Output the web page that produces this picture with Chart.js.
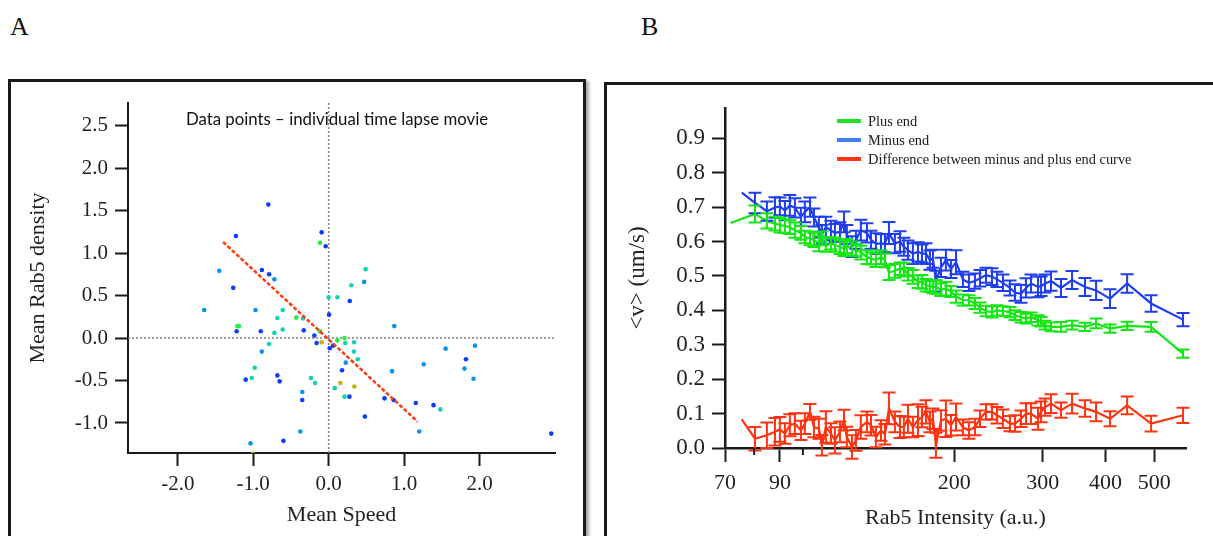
<!DOCTYPE html>
<html>
<head>
<meta charset="utf-8">
<script src="https://cdn.jsdelivr.net/npm/chart.js@4.4.0/dist/chart.umd.min.js"></script>
<style>
  html, body { margin:0; padding:0; background:#fff; }
  body { width:1213px; height:536px; position:relative; overflow:hidden; font-family:"Liberation Serif", serif; }
  .letter { position:absolute; top:12px; font-size:26px; color:#111; }
  .panel { position:absolute; border:3px solid #1a1a1a; box-shadow:3px 2px 3px rgba(0,0,0,0.35); background:#fff; }
  #panelA { left:8px; top:79px; width:572px; height:520px; }
  #panelB { left:604px; top:82px; width:640px; height:520px; }
  #wrapA { position:absolute; left:11px; top:82px; width:573px; height:454px; }
  #wrapB { position:absolute; left:607px; top:85px; width:606px; height:451px; }
  #titleA { position:absolute; left:137px; width:400px; top:109px; line-height:20px; text-align:center;
            font-family:Lato, "Open Sans", sans-serif; font-size:16.8px; color:#111; }
</style>
</head>
<body>
<div class="letter" style="left:10px">A</div>
<div class="letter" style="left:641px">B</div>
<div class="panel" id="panelA"></div>
<div class="panel" id="panelB"></div>
<div id="wrapA"><canvas id="chartA"></canvas></div>
<div id="wrapB"><canvas id="chartB"></canvas></div>
<div id="titleA">Data points – individual time lapse movie</div>
<script>
// ---------- panel A data ----------
const speedTicks = [-2, -1, 0, 1, 2];
const densityTicks = [-1.0, -0.5, 0.0, 0.5, 1.0, 1.5, 2.0, 2.5];

const bluePoints = [[-0.80,1.57],[-1.23,1.20],[-0.886,0.80],[-0.79,0.75],[-1.265,0.59],[-1.22,0.08],
  [-0.90,0.08],[-1.10,-0.49],[-0.68,-0.44],[-0.65,-0.51],[-0.60,-1.21],[-0.093,1.243],[-0.04,1.08],
  [0.28,0.435],[0.005,0.275],[-0.33,0.09],[-0.19,0.03],[-0.16,-0.06],[0.013,-0.12],[0.057,-0.09],
  [0.177,-0.38],[-0.35,-0.73],[0.275,-0.69],[0.48,-0.925],[0.74,-0.71],[0.86,-0.73],[1.155,-0.765],
  [1.39,-0.79],[1.82,-0.25],[2.95,-1.125]];
const lightBluePoints = [[-1.45,0.79],[-0.72,0.69],[-1.65,0.33],[-0.97,0.33],[-0.886,-0.16],[-0.376,-1.10],
  [-1.036,-1.24],[0.47,0.66],[0.87,0.14],[-0.35,-0.635],[0.226,-0.29],[0.84,-0.39],[1.20,-1.10],
  [1.26,-0.31],[1.55,-0.125],[1.80,-0.36],[1.92,-0.48],[1.94,-0.09]];
const tealPoints = [[-0.68,0.235],[-0.61,0.33],[-0.72,0.06],[-0.61,0.10],[-0.79,-0.07],[-0.98,-0.35],
  [-1.02,-0.47],[0.49,0.81],[0.30,0.62],[0.0,0.48],[0.115,0.48],[-0.34,0.23],[0.22,-0.06],[0.336,-0.05],
  [0.336,-0.16],[0.385,-0.25],[-0.235,-0.47],[-0.18,-0.53],[0.08,-0.59],[0.21,-0.69],[1.48,-0.84]];
const greenPoints = [[-0.43,0.24],[-1.21,0.14],[-1.19,0.14],[-0.115,1.12],[-0.115,0.08],[0.115,-0.03],[0.21,0.0]];
const yellowPoints = [[-1.005,-1.36],[-0.093,-0.05],[0.155,-0.53],[0.34,-0.57]];
const fitLine = [[-1.40,1.13],[1.18,-0.985]];

// ---------- panel B data ----------
const intensityTicks = [70, 80, 90, 100, 200, 300, 400, 500];
const intensityLabels = [70, 90, 200, 300, 400, 500];
const velocityTicks = [0.0, 0.1, 0.2, 0.3, 0.4, 0.5, 0.6, 0.7, 0.8, 0.9];
const legendLabels = ['Plus end', 'Minus end', 'Difference between minus and plus end curve'];

const intensity = [75.6,80.3,84.8,88.0,90.0,92.1,94.2,96.4,99.1,100.9,103.3,105.2,107.6,109.1,111.1,113.7,
  115.8,118.5,120.7,122.3,125.2,127.5,130.4,134.1,136.6,139.7,143.0,145.6,148.3,152.4,156.0,158.8,161.8,
  165.5,169.4,172.5,175.7,178.9,181.4,183.9,188.2,192.5,197.0,201.6,208.1,213.9,219.9,225.0,231.3,237.7,
  243.2,250.0,258.1,264.1,271.5,277.8,284.2,293.5,297.6,303.1,311.5,326.1,343.0,364.0,382.9,408.2,441.4,
  492.6,570.2];
const plusFirstIntensity = 71.8;
const plusSpeed = [0.654,0.68,0.66,0.652,0.648,0.645,0.642,0.633,0.625,0.613,0.609,0.604,0.594,0.609,0.59,
  0.595,0.59,0.584,0.58,0.587,0.58,0.575,0.568,0.555,0.551,0.546,0.555,0.545,0.51,0.515,0.521,0.518,0.505,
  0.497,0.483,0.483,0.473,0.47,0.468,0.468,0.46,0.463,0.455,0.44,0.43,0.429,0.42,0.408,0.398,0.395,0.40,
  0.398,0.395,0.386,0.38,0.376,0.38,0.371,0.367,0.357,0.352,0.352,0.357,0.352,0.362,0.347,0.355,0.352,0.274];
const plusErr = [0,0.025,0.022,0.02,0.022,0.02,0.02,0.022,0.02,0.018,0.02,0.02,0.022,0.02,0.02,0.018,0.02,
  0.02,0.022,0.02,0.02,0.018,0.02,0.02,0.018,0.02,0.02,0.02,0.022,0.02,0.018,0.02,0.018,0.02,0.018,0.02,
  0.018,0.016,0.018,0.02,0.018,0.02,0.016,0.018,0.016,0.015,0.016,0.015,0.015,0.016,0.015,0.014,0.015,
  0.014,0.015,0.014,0.014,0.015,0.014,0.013,0.013,0.014,0.013,0.012,0.014,0.012,0.012,0.014,0.012];
const minusSpeed = [0.742,0.712,0.688,0.699,0.702,0.69,0.705,0.698,0.672,0.686,0.70,0.67,0.642,0.62,0.642,
  0.632,0.625,0.628,0.657,0.62,0.585,0.605,0.633,0.625,0.605,0.594,0.594,0.595,0.625,0.594,0.6,0.585,0.575,
  0.565,0.57,0.565,0.565,0.546,0.55,0.485,0.525,0.546,0.52,0.54,0.49,0.48,0.485,0.493,0.502,0.498,0.49,
  0.48,0.465,0.452,0.448,0.465,0.478,0.468,0.47,0.478,0.485,0.465,0.488,0.468,0.458,0.434,0.478,0.42,0.373];
const minusErr = [0,0.03,0.028,0.03,0.026,0.028,0.03,0.028,0.026,0.03,0.028,0.026,0.03,0.028,0.03,0.028,
  0.026,0.028,0.03,0.028,0.03,0.026,0.03,0.028,0.026,0.03,0.028,0.026,0.032,0.028,0.03,0.026,0.028,0.03,
  0.028,0.026,0.03,0.028,0.026,0.03,0.028,0.03,0.026,0.035,0.022,0.024,0.022,0.024,0.022,0.024,0.022,0.024,
  0.022,0.024,0.026,0.028,0.026,0.03,0.028,0.026,0.028,0.026,0.026,0.026,0.028,0.027,0.027,0.024,0.019];
const diffSpeed = [0.083,0.027,0.037,0.047,0.054,0.042,0.066,0.071,0.051,0.071,0.105,0.061,0.056,0.008,
  0.061,0.042,0.022,0.047,0.081,0.032,0.003,0.022,0.061,0.076,0.066,0.032,0.051,0.04,0.115,0.076,0.061,
  0.061,0.085,0.061,0.081,0.09,0.105,0.076,0.085,0.008,0.08,0.085,0.066,0.09,0.06,0.051,0.061,0.085,0.105,
  0.105,0.095,0.085,0.071,0.071,0.085,0.1,0.1,0.085,0.105,0.119,0.129,0.11,0.129,0.115,0.105,0.085,0.124,
  0.071,0.095];
const diffErr = [0,0.034,0.037,0.04,0.036,0.03,0.032,0.03,0.028,0.03,0.023,0.03,0.029,0.03,0.046,0.03,0.038,
  0.03,0.03,0.03,0.034,0.03,0.034,0.03,0.03,0.03,0.03,0.03,0.046,0.03,0.032,0.03,0.041,0.03,0.046,0.03,
  0.034,0.03,0.03,0.036,0.03,0.053,0.03,0.039,0.023,0.024,0.024,0.024,0.022,0.022,0.024,0.027,0.022,0.024,
  0.024,0.03,0.03,0.032,0.03,0.025,0.027,0.022,0.029,0.024,0.027,0.022,0.026,0.023,0.022];

// ---------- shared helpers ----------
const SERIF = "'Liberation Serif', 'Times New Roman', serif";
const INK = '#1a1a1a';
const toXY = pts => pts.map(p => ({x: p[0], y: p[1]}));
const fixedTicks = list => scale => { scale.ticks = list.map(v => ({value: v})); };

// dotted zero lines for panel A
const zeroLines = {
  id: 'zeroLines',
  beforeDatasetsDraw(chart) {
    const {ctx, chartArea: a, scales: {x, y}} = chart;
    const px = x.getPixelForValue(0), py = y.getPixelForValue(0);
    ctx.save();
    ctx.strokeStyle = '#808080';
    ctx.lineWidth = 1.5;
    ctx.setLineDash([2, 2]);
    ctx.beginPath();
    ctx.moveTo(px, a.top); ctx.lineTo(px, a.bottom);
    ctx.moveTo(a.left, py); ctx.lineTo(a.right, py);
    ctx.stroke();
    ctx.restore();
  }
};

// error bars for panel B
const errorBars = {
  id: 'errorBars',
  afterDatasetsDraw(chart) {
    const {ctx, scales: {x, y}} = chart;
    const sets = chart.data.datasets;
    for (let i = sets.length - 1; i >= 0; i--) {
      const ds = sets[i];
      if (!ds.errors) continue;
      ctx.save();
      ctx.strokeStyle = ds.borderColor;
      ctx.lineWidth = 2;
      ds.data.forEach((p, j) => {
        const e = ds.errors[j];
        if (!e) return;
        const px = x.getPixelForValue(p.x);
        const top = y.getPixelForValue(p.y + e);
        const bot = y.getPixelForValue(p.y - e);
        ctx.beginPath();
        ctx.moveTo(px, top); ctx.lineTo(px, bot);
        ctx.moveTo(px - 6.5, top); ctx.lineTo(px + 6.5, top);
        ctx.moveTo(px - 6.5, bot); ctx.lineTo(px + 6.5, bot);
        ctx.stroke();
      });
      ctx.restore();
    }
  }
};

// short minor ticks (80, 100) + legend for panel B
const legendColors = ['#22e022', '#3f7ff0', '#ff3311'];
const panelBExtras = {
  id: 'panelBExtras',
  afterDraw(chart) {
    const {ctx, scales: {x}} = chart;
    ctx.save();
    ctx.strokeStyle = INK;
    ctx.lineWidth = 2;
    [80, 100].forEach(v => {
      const px = x.getPixelForValue(v);
      ctx.beginPath(); ctx.moveTo(px, x.top); ctx.lineTo(px, x.top + 7); ctx.stroke();
    });
    ctx.font = '14.4px ' + SERIF;
    ctx.textBaseline = 'middle';
    legendLabels.forEach((t, i) => {
      const ly = 36 + i * 19;
      ctx.strokeStyle = legendColors[i];
      ctx.lineWidth = 4;
      ctx.beginPath(); ctx.moveTo(230, ly); ctx.lineTo(254, ly); ctx.stroke();
      ctx.fillStyle = INK;
      ctx.fillText(t, 261, ly + 1);
    });
    ctx.restore();
  }
};

const tickFont = size => ({family: SERIF, size: size});

// ---------- chart A ----------
const dot = (data, color) => ({
  type: 'scatter', data: toXY(data), backgroundColor: color, borderWidth: 0, pointRadius: 2.3, pointHoverRadius: 2.3
});

new Chart(document.getElementById('chartA'), {
  type: 'scatter',
  data: {
    datasets: [
      {type: 'line', data: toXY(fitLine), borderColor: '#ff3a10', borderWidth: 2.5, borderDash: [4, 2],
       pointRadius: 0, fill: false},
      dot(bluePoints, '#0b3cff'),
      dot(lightBluePoints, '#0a93ee'),
      dot(tealPoints, '#12d2b2'),
      dot(greenPoints, '#1ef03c'),
      dot(yellowPoints, '#c0b414')
    ]
  },
  options: {
    responsive: true, maintainAspectRatio: false, animation: false, devicePixelRatio: 1,
    layout: {padding: {top: 21, right: 29, left: 0, bottom: 0}},
    plugins: {legend: {display: false}, tooltip: {enabled: false}},
    scales: {
      x: {
        type: 'linear', min: -2.66, max: 3.0,
        afterBuildTicks: fixedTicks(speedTicks),
        afterFit: s => { s.height = 83; },
        grid: {display: true, drawOnChartArea: false, drawTicks: true, tickLength: 13, tickWidth: 2, tickColor: INK},
        border: {display: true, color: INK, width: 2},
        ticks: {font: tickFont(21), color: '#222', padding: 6, maxRotation: 0, callback: v => v.toFixed(1)},
        title: {display: true, text: 'Mean Speed', font: tickFont(22), color: '#222', padding: {top: 0, bottom: 8}}
      },
      y: {
        type: 'linear', min: -1.353, max: 2.765,
        afterBuildTicks: fixedTicks(densityTicks),
        afterFit: s => { s.width = 117; },
        grid: {display: true, drawOnChartArea: false, drawTicks: true, tickLength: 13, tickWidth: 2, tickColor: INK},
        border: {display: true, color: INK, width: 2},
        ticks: {font: tickFont(21), color: '#222', padding: 7, callback: v => v.toFixed(1)},
        title: {display: true, text: 'Mean Rab5 density', font: tickFont(22), color: '#222', padding: {top: 14, bottom: 0}}
      }
    }
  },
  plugins: [zeroLines]
});

// ---------- chart B ----------
const series = (xs, ys, errs, color) => ({
  type: 'line', data: xs.map((v, i) => ({x: v, y: ys[i]})), errors: errs,
  borderColor: color, borderWidth: 2.2, pointRadius: 0, tension: 0, fill: false, clip: false
});
const plusX = [plusFirstIntensity].concat(intensity.slice(1));

new Chart(document.getElementById('chartB'), {
  type: 'line',
  data: {
    datasets: [
      series(plusX, plusSpeed, plusErr, '#14e614'),
      series(intensity, minusSpeed, minusErr, '#1f3ef0'),
      series(intensity, diffSpeed, diffErr, '#ff3311')
    ]
  },
  options: {
    responsive: true, maintainAspectRatio: false, animation: false, devicePixelRatio: 1,
    layout: {padding: {top: 23, right: 27, left: 0, bottom: 0}},
    plugins: {legend: {display: false}, tooltip: {enabled: false}},
    scales: {
      x: {
        type: 'logarithmic', min: 70, max: 578,
        afterBuildTicks: fixedTicks(intensityTicks),
        afterFit: s => { s.height = 88; },
        grid: {display: true, drawOnChartArea: false, drawTicks: true, tickLength: 14, tickWidth: 2,
               tickColor: c => (c.tick && (c.tick.value === 80 || c.tick.value === 100)) ? 'rgba(0,0,0,0)' : INK},
        border: {display: true, color: INK, width: 2.5},
        ticks: {font: tickFont(22), color: '#222', padding: 8, maxRotation: 0, autoSkip: false,
                callback: v => intensityLabels.includes(v) ? String(v) : ''},
        title: {display: true, text: 'Rab5 Intensity (a.u.)', font: tickFont(22), color: '#222', padding: {top: 0, bottom: 4.5}}
      },
      y: {
        type: 'linear', min: 0, max: 0.988,
        afterBuildTicks: fixedTicks(velocityTicks),
        afterFit: s => { s.width = 118; },
        grid: {display: true, drawOnChartArea: false, drawTicks: true, tickLength: 13, tickWidth: 2, tickColor: INK},
        border: {display: true, color: INK, width: 2.5},
        ticks: {font: tickFont(23), color: '#222', padding: 7, callback: v => v.toFixed(1)},
        title: {display: true, text: '<v> (um/s)', font: tickFont(23), color: '#222', padding: {top: 17, bottom: 0}}
      }
    }
  },
  plugins: [errorBars, panelBExtras]
});
</script>
</body>
</html>
